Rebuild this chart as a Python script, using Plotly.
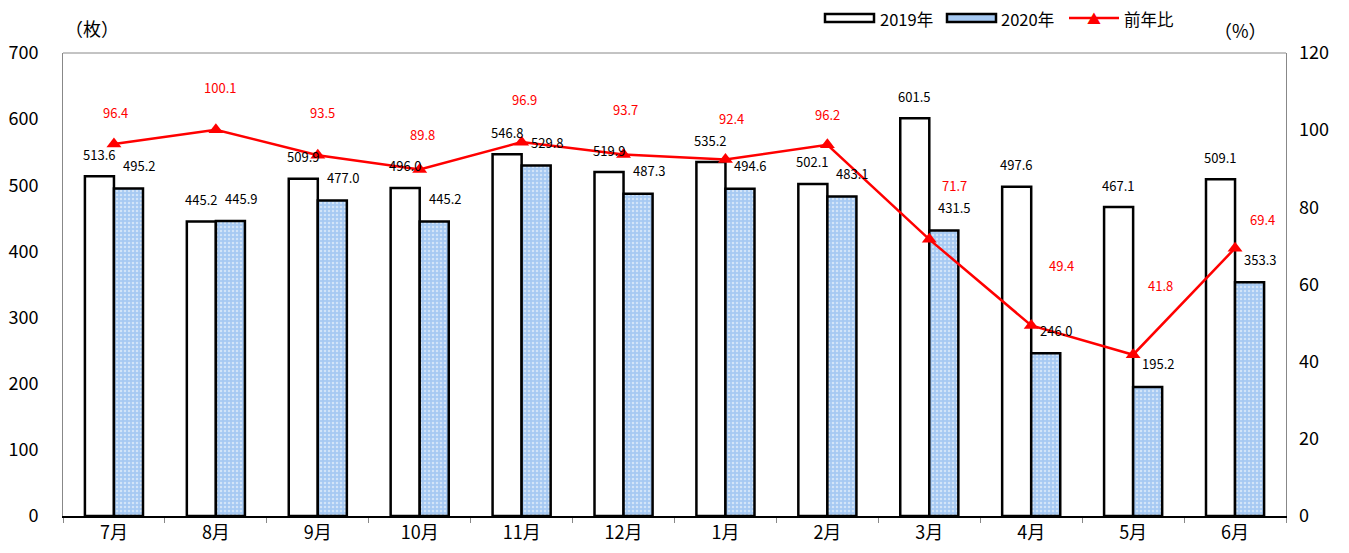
import plotly.graph_objects as go

months = ["7月", "8月", "9月", "10月", "11月", "12月", "1月", "2月", "3月", "4月", "5月", "6月"]
v2019 = [513.6, 445.2, 509.9, 496.0, 546.8, 519.9, 535.2, 502.1, 601.5, 497.6, 467.1, 509.1]
v2020 = [495.2, 445.9, 477.0, 445.2, 529.8, 487.3, 494.6, 483.1, 431.5, 246.0, 195.2, 353.3]
ratio = [96.4, 100.1, 93.5, 89.8, 96.9, 93.7, 92.4, 96.2, 71.7, 49.4, 41.8, 69.4]
series_names = ["2019年", "2020年", "前年比"]

# label offsets (px) for ratio labels, style only
ratio_xshift = [2, 4, 5, 3, 3, 2, 6, 0, 25, 30, 27, 27]
ratio_yshift = [32, 42, 43, 35, 43, 45, 41, 30, 54, 60, 69, 29]

FONT = "Noto Sans CJK JP"
BLUE = "#a6c9f2"
OFF = 8  # page body margin
PAGE_W, PAGE_H = 1349, 553
W, H = PAGE_W - 2 * OFF, PAGE_H - 2 * OFF
L, T = 63 - OFF, 53 - OFF
R = PAGE_W - 1286 - OFF
B = PAGE_H - 516 - OFF
PW, PH = W - L - R, H - T - B


def px(x):
    return (x - OFF - L) / PW


def py(y):
    return (H - B - (y - OFF)) / PH


fig = go.Figure()
fig.add_trace(go.Bar(
    x=months, y=v2019, name=series_names[0],
    marker=dict(color="white", line=dict(color="black", width=2.5)),
))
fig.add_trace(go.Bar(
    x=months, y=v2020, name=series_names[1],
    marker=dict(color=BLUE, line=dict(color="black", width=2.5),
                pattern=dict(shape=".", fgcolor="white", bgcolor=BLUE,
                             size=4, solidity=0.3, fillmode="overlay")),
))
fig.add_trace(go.Scatter(
    x=months, y=ratio, name=series_names[2], yaxis="y2", mode="lines+markers",
    line=dict(color="#ff0000", width=2.5),
    marker=dict(symbol="triangle-up", size=13, color="#ff0000"),
))

annots = []
for i, m in enumerate(months):
    annots.append(dict(x=m, y=v2019[i], xref="x", yref="y", text=f"{v2019[i]:.1f}",
                       showarrow=False, xshift=-15, yshift=22,
                       font=dict(size=13, color="black", family=FONT)))
    annots.append(dict(x=m, y=v2020[i], xref="x", yref="y", text=f"{v2020[i]:.1f}",
                       showarrow=False, xshift=25, yshift=23,
                       font=dict(size=13, color="black", family=FONT)))
    annots.append(dict(x=m, y=ratio[i], xref="x", yref="y2", text=f"{ratio[i]:.1f}",
                       showarrow=False, xshift=ratio_xshift[i], yshift=ratio_yshift[i],
                       font=dict(size=13, color="#ff0000", family=FONT)))

annots.append(dict(x=px(92), y=py(28), xref="paper", yref="paper", text="（枚）",
                   showarrow=False, xanchor="center", yanchor="middle",
                   font=dict(size=18, color="black", family=FONT)))
annots.append(dict(x=px(1240), y=py(30), xref="paper", yref="paper", text="（%）",
                   showarrow=False, xanchor="center", yanchor="middle",
                   font=dict(size=18, color="black", family=FONT)))

# custom legend
ly = py(18)
shapes = [
    dict(type="line", xref="paper", yref="paper", x0=0, x1=1, y0=1, y1=1,
         line=dict(color="#888", width=1)),
    dict(type="rect", xref="paper", yref="paper", x0=px(825), x1=px(874), y0=py(22), y1=py(14),
         fillcolor="white", line=dict(color="black", width=2.5)),
    dict(type="rect", xref="paper", yref="paper", x0=px(947), x1=px(996), y0=py(22), y1=py(14),
         fillcolor=BLUE, line=dict(color="black", width=2.5)),
    dict(type="line", xref="paper", yref="paper", x0=px(1069), x1=px(1119), y0=ly, y1=ly,
         line=dict(color="#ff0000", width=2.5)),
]
annots.append(dict(x=px(1094), y=py(17.5), xref="paper", yref="paper", text="▲",
                   showarrow=False, xanchor="center", yanchor="middle", borderpad=0,
                   font=dict(size=14, color="#ff0000", family=FONT)))
for xx, name in zip([879, 1000, 1123], series_names):
    annots.append(dict(x=px(xx), y=py(19), xref="paper", yref="paper", text=name,
                       showarrow=False, xanchor="left", yanchor="middle", borderpad=0,
                       font=dict(size=16.5, color="black", family=FONT)))

fig.update_layout(
    annotations=annots, shapes=shapes,
    width=W, height=H,
    margin=dict(l=L, r=R, t=T, b=B, autoexpand=False),
    paper_bgcolor="white", plot_bgcolor="white",
    barmode="group", bargap=0.43, bargroupgap=0,
    font=dict(family=FONT, size=18, color="black"),
    showlegend=False,
    xaxis=dict(type="category", range=[-0.5, len(months) - 0.5],
               showline=True, linecolor="black", linewidth=1.5,
               ticks="outside", tickson="boundaries", ticklen=5, tickcolor="#888",
               showgrid=False, tickfont=dict(size=18), automargin=False),
    yaxis=dict(range=[0, 700], dtick=100, showgrid=False, showline=True,
               linecolor="#888", linewidth=1, mirror=True, ticks="", zeroline=False,
               tickfont=dict(size=18), ticklabelstandoff=20, automargin=False),
    yaxis2=dict(range=[0, 120], dtick=20, overlaying="y", side="right",
                showgrid=False, showline=False, ticks="", zeroline=False,
                tickfont=dict(size=18), ticklabelstandoff=12, automargin=False),
)

fig.write_html("out.html")
